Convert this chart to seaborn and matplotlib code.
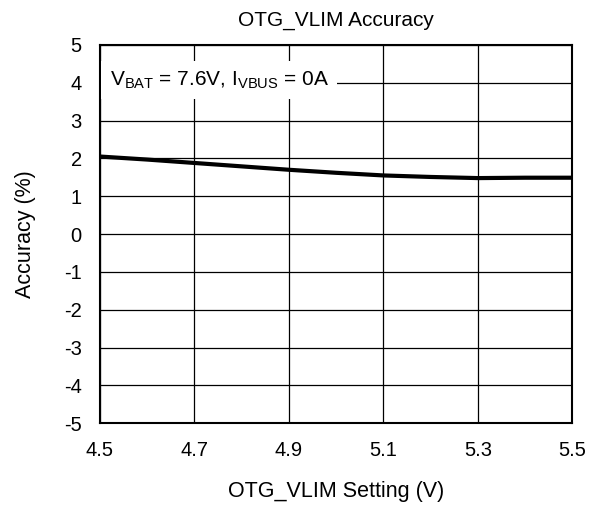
import matplotlib
matplotlib.use("Agg")
import matplotlib.pyplot as plt
import seaborn as sns
import pandas as pd

# OTG_VLIM setting (V) vs accuracy (%)
vlim_setting = [4.5, 4.6, 4.7, 4.8, 4.9, 5.0, 5.1, 5.2, 5.3, 5.4, 5.5]
accuracy = [2.05, 1.97, 1.88, 1.79, 1.70, 1.62, 1.55, 1.51, 1.48, 1.49, 1.49]

x_ticks = [4.5, 4.7, 4.9, 5.1, 5.3, 5.5]
y_ticks = list(range(-5, 6))

sns.set_theme(style="white")
plt.rcParams['font.family'] = ['Liberation Sans', 'DejaVu Sans']
plt.rcParams['axes.unicode_minus'] = False
plt.rcParams['text.color'] = 'black'
plt.rcParams['axes.labelcolor'] = 'black'

df = pd.DataFrame({"setting": vlim_setting, "accuracy": accuracy})

fig = plt.figure(figsize=(5.98, 5.05), dpi=100)
ax = fig.add_axes([0.167, 0.162, 0.790, 0.749])

sns.lineplot(data=df, x="setting", y="accuracy", color="black", linewidth=3, ax=ax, zorder=3)

ax.set_xlim(4.5, 5.5)
ax.set_ylim(-5, 5)
ax.set_xticks(x_ticks)
ax.set_xticklabels([f"{v:.1f}" for v in x_ticks])
ax.set_yticks(y_ticks)
ax.grid(True, color="black", linewidth=0.9)
ax.tick_params(axis="both", length=0, labelsize=14.5, colors="black")
ax.tick_params(axis="x", pad=13)
ax.tick_params(axis="y", pad=13)
for s in ax.spines.values():
    s.set_color("black")
    s.set_linewidth(1.5)

ax.set_title("OTG_VLIM Accuracy", fontsize=15, pad=14, color="black")
ax.set_xlabel("OTG_VLIM Setting (V)", fontsize=15.5, labelpad=15, color="black")
ax.set_ylabel("Accuracy (%)", fontsize=15.5, labelpad=20, color="black")

ax.text(0.021, 0.908, r"V$_{\mathregular{BAT}}$ = 7.6V, I$_{\mathregular{VBUS}}$ = 0A",
        transform=ax.transAxes, fontsize=15, va="center", ha="left", zorder=4,
        color="black", bbox=dict(facecolor="white", edgecolor="none", pad=6))

fig.savefig("out.png", dpi=100)
